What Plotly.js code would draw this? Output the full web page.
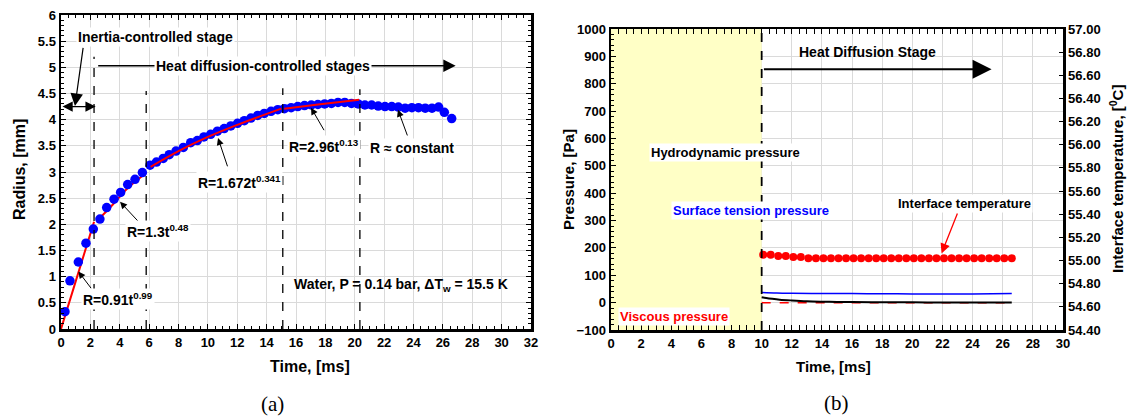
<!DOCTYPE html>
<html><head><meta charset="utf-8">
<script src="https://cdn.plot.ly/plotly-3.0.1.min.js"></script>
<style>html,body{margin:0;padding:0;background:#fff;}#g{width:1133px;height:418px;}</style>
</head><body><div id="g"></div>
<script>
// ---------- (a) bubble radius ----------
const radT = [0.27,0.61,1.18,1.70,2.20,2.65,3.11,3.61,4.06,4.54,5.04,5.54,6.06,6.50,6.96,7.37,7.83,8.33,8.83,9.28,9.73,10.19,10.65,11.11,11.56,12.02,12.48,12.93,13.39,13.84,14.30,14.76,15.21,15.67,16.12,16.58,17.04,17.49,17.95,18.41,18.86,19.32,19.78,20.23,20.69,21.15,21.60,22.06,22.52,22.97,23.43,23.89,24.34,24.80,25.26,25.71,26.10,26.60];
const radR = [0.33,0.92,1.28,1.64,1.91,2.10,2.32,2.48,2.61,2.76,2.86,2.99,3.13,3.19,3.26,3.33,3.40,3.47,3.56,3.60,3.67,3.72,3.78,3.83,3.88,3.93,3.98,4.03,4.08,4.12,4.16,4.19,4.21,4.23,4.25,4.27,4.28,4.29,4.30,4.31,4.33,4.33,4.31,4.30,4.28,4.28,4.26,4.25,4.25,4.24,4.22,4.23,4.23,4.22,4.22,4.24,4.14,4.02];
const fit1T = [0, 1, 2.25],            fit1R = [0, 0.91, 2.05];
const fit2T = [2.5, 3.5, 4.5, 5.8],    fit2R = [2.08, 2.37, 2.68, 2.98];
const fit3T = [6.1, 8, 10, 12, 15],    fit3R = [3.10, 3.40, 3.67, 3.90, 4.21];
const fit4T = [15.2, 17.5, 20.3],      fit4R = [4.21, 4.29, 4.38];
const stageT = [2.25, 5.8, 15.1, 20.35];
const stageTop = [5.2, 4.55, 4.6, 4.58];

// ---------- (b) pressures / temperature ----------
const tempT = [10.1,10.6,11.1,11.6,12.1,12.6,13.1,13.6,14.1,14.6,15.1,15.6,16.1,16.6,17.1,17.6,18.1,18.6,19.1,19.6,20.1,20.6,21.1,21.6,22.1,22.6,23.1,23.6,24.1,24.6,25.1,25.6,26.1,26.6];
const tempV = [55.05,55.05,55.04,55.04,55.03,55.03,55.02,55.02,55.02,55.02,55.02,55.02,55.02,55.02,55.02,55.02,55.02,55.02,55.02,55.02,55.02,55.02,55.02,55.02,55.02,55.02,55.02,55.02,55.02,55.02,55.02,55.02,55.02,55.02];
const hydroT = [10,10.3,10.7,11.2,12,13,14,15,16,18,20,22,24,26.6];
const hydroP = [20,17,14,11,8,5,3.5,2.5,2,1.5,1,0.8,0.5,0.3];
const surfT = [10,11,12,14,16,18,20,22,24,26.6];
const surfP = [37,35,34,33,33,32.5,32,32,32,33];
const viscT = [10,26.6];
const viscP = [0,0];

const FONT = 'Liberation Sans, Arial, sans-serif';
const tf = {family: FONT, size: 13, color: '#000', weight: 'bold'};
const af = (s, c) => ({family: FONT, size: s, color: c || '#000', weight: 'bold'});
const grid = '#dadada';

const traces = [
  {x: fit1T, y: fit1R, mode: 'lines', line: {color: '#ff0000', width: 2, shape: 'spline'}, xaxis: 'x', yaxis: 'y', hoverinfo: 'skip'},
  {x: fit2T, y: fit2R, mode: 'lines', line: {color: '#ff0000', width: 2, shape: 'spline'}, xaxis: 'x', yaxis: 'y', hoverinfo: 'skip'},
  {x: radT, y: radR, mode: 'markers', marker: {color: '#0000ff', size: 9.5}, xaxis: 'x', yaxis: 'y'},
  {x: fit3T, y: fit3R, mode: 'lines', line: {color: '#ff0000', width: 2, shape: 'spline'}, xaxis: 'x', yaxis: 'y', hoverinfo: 'skip'},
  {x: fit4T, y: fit4R, mode: 'lines', line: {color: '#ff0000', width: 2, shape: 'spline'}, xaxis: 'x', yaxis: 'y', hoverinfo: 'skip'},
  {x: viscT, y: viscP, mode: 'lines', line: {color: '#ff0000', width: 1.5, dash: 'dash'}, xaxis: 'x2', yaxis: 'y2'},
  {x: surfT, y: surfP, mode: 'lines', line: {color: '#0000ff', width: 1.5, shape: 'spline'}, xaxis: 'x2', yaxis: 'y2'},
  {x: hydroT, y: hydroP, mode: 'lines', line: {color: '#000', width: 2, shape: 'spline'}, xaxis: 'x2', yaxis: 'y2'},
  {x: tempT, y: tempV, mode: 'markers', marker: {color: '#ff0000', size: 8}, xaxis: 'x2', yaxis: 'y3'}
];

const shapes = stageT.map((t, i) => ({type: 'line', xref: 'x', yref: 'y', x0: t, x1: t, y0: 0, y1: stageTop[i], line: {color: '#000', width: 1.3, dash: 'dash'}, layer: 'above'}));
shapes.push({type: 'rect', xref: 'x2', yref: 'y2', x0: 0, x1: 10, y0: -100, y1: 1000, fillcolor: '#ffffc6', line: {width: 0}, layer: 'between'});
shapes.push({type: 'line', xref: 'x2', yref: 'y2', x0: 10, x1: 10, y0: -100, y1: 1000, line: {color: '#000', width: 1.8, dash: 'dash'}, layer: 'above'});

function arrow(xr, yr, x, y, ax, ay, opt) {
  return Object.assign({xref: xr, yref: yr, axref: xr, ayref: yr, x: x, y: y, ax: ax, ay: ay, text: '', showarrow: true,
    arrowhead: 2, arrowsize: 1.4, arrowwidth: 1, arrowcolor: '#000'}, opt || {});
}
function label(xr, yr, x, y, text, size, color, bg) {
  return {xref: xr, yref: yr, x: x, y: y, text: text, showarrow: false, font: af(size, color),
    bgcolor: bg === false ? 'rgba(0,0,0,0)' : '#fff', borderpad: 1, xanchor: 'center', yanchor: 'middle'};
}

const annotations = [
  // (a)
  arrow('x', 'y', 0.95, 4.26, 1.52, 5.40, {arrowsize: 2.1, arrowwidth: 1.2}),
  arrow('x', 'y', 2.36, 4.25, 0.0, 4.25, {arrowside: 'end+start', arrowsize: 1.7, arrowwidth: 1.2}),
  arrow('x', 'y', 26.87, 5.03, 2.43, 5.03, {arrowsize: 1.9, arrowwidth: 1.3}),
  label('x', 'y', 6.4, 5.58, 'Inertia-controlled stage', 14),
  label('x', 'y', 13.72, 5.03, 'Heat diffusion-controlled stages', 14),
  arrow('x', 'y', 1.18, 1.10, 2.13, 0.75),
  label('x', 'y', 3.85, 0.57, 'R=0.91t<sup>0.99</sup>', 14),
  arrow('x', 'y', 4.02, 2.43, 5.38, 2.02),
  label('x', 'y', 6.6, 1.88, 'R=1.3t<sup>0.48</sup>', 14),
  arrow('x', 'y', 10.69, 3.65, 11.37, 3.08),
  label('x', 'y', 12.15, 2.81, 'R=1.672t<sup>0.341</sup>', 14),
  arrow('x', 'y', 17.02, 4.23, 17.97, 3.77),
  label('x', 'y', 17.9, 3.50, 'R=2.96t<sup>0.13</sup>', 14),
  arrow('x', 'y', 22.94, 4.19, 23.62, 3.67),
  label('x', 'y', 23.93, 3.46, 'R ≈ constant', 14),
  label('x', 'y', 23.18, 0.84, 'Water, P = 0.14 bar, ΔT<sub>w</sub> = 15.5 K', 14, '#000', false),
  {xref: 'paper', yref: 'paper', x: 19/1133, y: 1 - 170/418, text: 'Radius, [mm]', textangle: -90, showarrow: false, font: af(16), xanchor: 'center', yanchor: 'middle'},
  {xref: 'paper', yref: 'paper', x: 310/1133, y: 1 - 366/418, text: 'Time, [ms]', showarrow: false, font: af(16), xanchor: 'center', yanchor: 'middle'},
  {xref: 'paper', yref: 'paper', x: 272/1133, y: 1 - 404/418, text: '(a)', showarrow: false, font: {family: 'Liberation Serif, Times New Roman, serif', size: 21, color: '#000'}, xanchor: 'center', yanchor: 'middle'},
  // (b)
  arrow('x2', 'y2', 25.26, 853, 10.05, 853, {arrowsize: 1.9, arrowwidth: 2}),
  {xref: 'x2', yref: 'y2', x: 17.05, y: 917, text: 'Heat Diffusion Stage', showarrow: false, font: af(14), xanchor: 'center', yanchor: 'middle'},
  label('x2', 'y2', 7.63, 548, 'Hydrodynamic pressure', 13),
  label('x2', 'y2', 9.26, 336, 'Surface tension pressure', 13, '#0000ff'),
  label('x2', 'y2', 4.15, -51.4, 'Viscous pressure', 13, '#ff0000'),
  arrow('x2', 'y2', 21.94, 180, 23.03, 331, {arrowcolor: '#ff0000', arrowwidth: 1.3, arrowsize: 1.5}),
  label('x2', 'y2', 23.46, 363, 'Interface temperature', 13),
  {xref: 'paper', yref: 'paper', x: 568/1133, y: 1 - 180/418, text: 'Pressure, [Pa]', textangle: -90, showarrow: false, font: af(15), xanchor: 'center', yanchor: 'middle'},
  {xref: 'paper', yref: 'paper', x: 833/1133, y: 1 - 366/418, text: 'Time, [ms]', showarrow: false, font: af(15), xanchor: 'center', yanchor: 'middle'},
  {xref: 'paper', yref: 'paper', x: 1117/1133, y: 1 - 179/418, text: 'Interface temperature, [<sup>0</sup>C]', textangle: -90, showarrow: false, font: af(15), xanchor: 'center', yanchor: 'middle'},
  {xref: 'paper', yref: 'paper', x: 836/1133, y: 1 - 403/418, text: '(b)', showarrow: false, font: {family: 'Liberation Serif, Times New Roman, serif', size: 21, color: '#000'}, xanchor: 'center', yanchor: 'middle'}
];

const axBase = {showgrid: true, gridcolor: grid, gridwidth: 1, zeroline: false, showline: true, linecolor: '#000', linewidth: 2.5,
  mirror: 'allticks', ticks: 'inside', ticklen: 5, tickwidth: 1, tickcolor: '#000', tickfont: tf, fixedrange: true};

const layout = {
  width: 1133, height: 418, margin: {l: 0, r: 0, t: 0, b: 0},
  paper_bgcolor: '#fff', plot_bgcolor: '#fff', showlegend: false,
  font: {family: FONT, color: '#000'},
  xaxis: Object.assign({}, axBase, {domain: [61/1133, 531/1133], anchor: 'y', range: [0, 32], tick0: 0, dtick: 2,
    minor: {dtick: 0.5, ticks: 'inside', ticklen: 3, tickcolor: '#000', showgrid: false}}),
  yaxis: Object.assign({}, axBase, {domain: [1 - 329/418, 1 - 15/418], anchor: 'x', range: [0, 6], tick0: 0, dtick: 0.5,
    minor: {dtick: 0.1, ticks: 'inside', ticklen: 3, tickcolor: '#000', showgrid: false}}),
  xaxis2: Object.assign({}, axBase, {domain: [611/1133, 1063/1133], anchor: 'y2', range: [0, 30], tick0: 0, dtick: 2,
    minor: {dtick: 0.5, ticks: 'inside', ticklen: 3, tickcolor: '#000', showgrid: false}}),
  yaxis2: Object.assign({}, axBase, {domain: [1 - 330/418, 1 - 29/418], anchor: 'x2', range: [-100, 1000], tick0: 0, dtick: 100, mirror: false,
    minor: {dtick: 20, ticks: 'inside', ticklen: 3, tickcolor: '#000', showgrid: false}}),
  yaxis3: {overlaying: 'y2', side: 'right', anchor: 'x2', range: [54.4, 57], tick0: 54.4, dtick: 0.2, tickformat: '.2f',
    showgrid: false, zeroline: false, showline: true, linecolor: '#000', linewidth: 2.5, ticks: 'inside', ticklen: 4, tickcolor: '#000', tickfont: tf, fixedrange: true},
  shapes: shapes,
  annotations: annotations
};

Plotly.newPlot('g', traces, layout, {staticPlot: true, displayModeBar: false});
</script>
</body></html>
